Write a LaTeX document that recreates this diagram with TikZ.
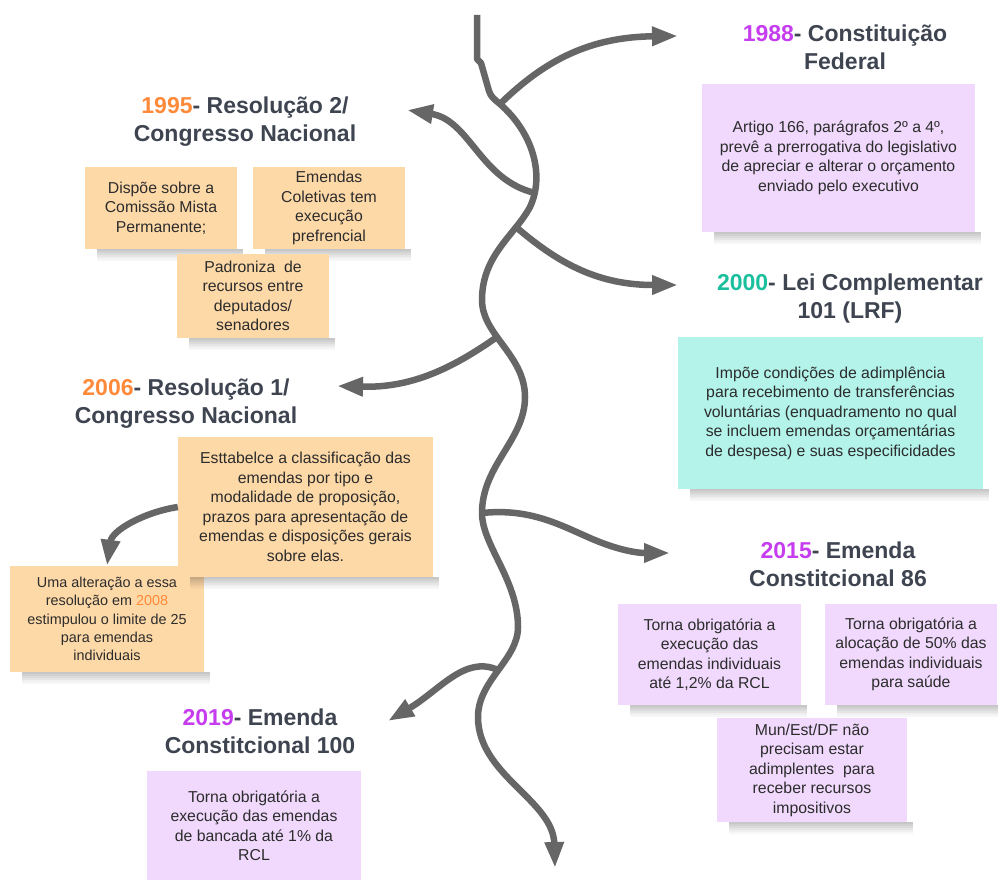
\documentclass[tikz,border=0pt]{standalone}
\usepackage{fontspec}
\setmainfont{Liberation Sans}
\usetikzlibrary{arrows.meta}
\definecolor{boxpurple}{HTML}{F0D9FC}
\definecolor{boxpeach}{HTML}{FED9A8}
\definecolor{boxteal}{HTML}{B3F3EA}
\definecolor{titlegray}{HTML}{3E4450}
\definecolor{bodytext}{HTML}{2C2C2C}
\definecolor{arrowgray}{HTML}{666666}
\definecolor{yearpurple}{HTML}{C53DEE}
\definecolor{yearorange}{HTML}{FF8A3A}
\definecolor{yearteal}{HTML}{1ABF9E}
\tikzset{
  box/.style={rectangle, inner sep=2pt, align=center, text=bodytext,
    font=\fontsize{15.8}{19.5}\selectfont},
  pbox/.style={box, fill=boxpurple},
  obox/.style={box, fill=boxpeach},
  tbox/.style={box, fill=boxteal},
  ttl/.style={align=center, text=titlegray, inner sep=0pt,
    font=\fontsize{23}{28}\selectfont\bfseries},
  spine/.style={draw=arrowgray, line width=6.5pt},
  branch/.style={spine, -{Triangle[length=26pt,width=18pt]}}
}
\newcommand{\shadowof}[1]{%
  \foreach \sa/\sb/\so in {0/2/0.22,2/4/0.18,4/6/0.14,6/8/0.10,8/10/0.06,10/12/0.03}{%
    \fill[black, fill opacity=\so] ([xshift=12pt,yshift=-\sa pt]#1.south west)
      rectangle ([xshift=6pt,yshift=-\sb pt]#1.south east);}}
\begin{document}
\begin{tikzpicture}[x=1pt,y=-1pt]
\useasboundingbox[fill=white] (0,0) rectangle (998,883);

% ---- spine junctions and arrow tips
\coordinate (s0) at (477,15);
\coordinate (j88) at (500,104);
\coordinate (j95) at (535,193);
\coordinate (j00) at (516,227);
\coordinate (j06) at (497,337);
\coordinate (j15) at (482,513);
\coordinate (j19) at (498,670);
\coordinate (send) at (555,868);
\coordinate (a88) at (678,36);
\coordinate (a95) at (407,110);
\coordinate (a00) at (678,285);
\coordinate (a06) at (337,386);
\coordinate (a15) at (670,553);
\coordinate (a19) at (388,721);

% ---- spine
\draw[spine, line join=round] (s0) -- (477,59) -- (481,63) -- (489,91)
  .. controls (491,97) and (494,99) .. (j88)
  .. controls (533,133) and (545,175) .. (530,207)
  .. controls (515,235) and (482,255) .. (482,300)
  .. controls (482,335) and (525,355) .. (525,397)
  .. controls (525,440) and (482,465) .. (j15)
  .. controls (482,545) and (518,580) .. (518,627)
  .. controls (518,660) and (478,680) .. (478,717);
\draw[branch] (478,717) .. controls (478,775) and (553,800) .. (send);

% ---- branches
\draw[branch] (j88) .. controls (545,60) and (590,37) .. (a88);
\draw[branch] (j95) .. controls (480,180) and (470,120) .. (a95);
\draw[branch] (j00) .. controls (560,265) and (600,285) .. (a00);
\draw[branch] (j06) .. controls (450,370) and (410,388) .. (a06);
\draw[branch] (j15) .. controls (530,508) and (560,525) .. (590,538)
  .. controls (615,549) and (635,553) .. (a15);
\draw[branch] (j19) .. controls (465,655) and (440,690) .. (a19);

% ---- titles
\node[ttl] (t1988) at (845,50.4) {\strut\textcolor{yearpurple}{1988}- Constituição\\Federal\strut};
\node[ttl] (t1995) at (245,121.4) {\strut\textcolor{yearorange}{1995}- Resolução 2/\\Congresso Nacional\strut};
\node[ttl] (t2000) at (850,298.4) {\strut\textcolor{yearteal}{2000}- Lei Complementar\\101 (LRF)\strut};
\node[ttl] (t2006) at (186,403.4) {\strut\textcolor{yearorange}{2006}- Resolução 1/\\Congresso Nacional\strut};
\node[ttl] (t2015) at (838,566.4) {\strut\textcolor{yearpurple}{2015}- Emenda\\Constitcional 86\strut};
\node[ttl] (t2019) at (260,733.4) {\strut\textcolor{yearpurple}{2019}- Emenda\\Constitcional 100\strut};

% ---- boxes
\node[pbox, minimum width=273pt, minimum height=148pt] (b1988) at (838.5,158)
  {Artigo 166, parágrafos 2º a 4º,\\prevê a prerrogativa do legislativo\\de apreciar e alterar o orçamento\\enviado pelo executivo};
\shadowof{b1988}

\node[obox, minimum width=152pt, minimum height=82pt] (bA) at (161,208)
  {Dispõe sobre a\\Comissão Mista\\Permanente;};
\shadowof{bA}
\node[obox, minimum width=152pt, minimum height=82pt] (bB) at (329,208)
  {Emendas\\Coletivas tem\\execução\\prefrencial};
\shadowof{bB}
\node[obox, minimum width=152pt, minimum height=84pt] (bC) at (253,296)
  {Padroniza\ \ de\\recursos entre\\deputados/\\senadores};
\shadowof{bC}

\node[tbox, minimum width=305pt, minimum height=152pt] (b2000) at (830.5,413)
  {Impõe condições de adimplência\\para recebimento de transferências\\voluntárias (enquadramento no qual\\se incluem emendas orçamentárias\\de despesa) e suas especificidades};
\shadowof{b2000}

\node[obox, minimum width=194pt, minimum height=106pt,
  font=\fontsize{14.4}{18.2}\selectfont] (b2008) at (107,619)
  {Uma alteração a essa\\resolução em \textcolor{yearorange}{2008}\\estimpulou o limite de 25\\para emendas\\individuais};
\shadowof{b2008}
\node[obox, minimum width=255pt, minimum height=140pt] (b2006) at (305.5,507)
  {Esttabelce a classificação das\\emendas por tipo e\\modalidade de proposição,\\prazos para apresentação de\\emendas e disposições gerais\\sobre elas.};
\shadowof{b2006}

\node[pbox, minimum width=183pt, minimum height=101pt] (b2015a) at (709.5,654.5)
  {Torna obrigatória a\\execução das\\emendas individuais\\até 1,2\% da RCL};
\shadowof{b2015a}
\node[pbox, minimum width=172pt, minimum height=101pt] (b2015b) at (911,654.5)
  {Torna obrigatória a\\alocação de 50\% das\\emendas individuais\\para saúde};
\shadowof{b2015b}
\node[pbox, minimum width=190pt, minimum height=104pt] (b2015c) at (812,770)
  {Mun/Est/DF não\\precisam estar\\adimplentes\ \ para\\receber recursos\\impositivos};
\shadowof{b2015c}

\node[pbox, minimum width=214pt, minimum height=109pt] (b2019) at (254,825.5)
  {Torna obrigatória a\\execução das emendas\\de bancada até 1\% da\\RCL};

% ---- box to box arrow
\draw[branch] (b2006.west) .. controls (145,512) and (112,530) .. (b2008.north);
\end{tikzpicture}
\end{document}
